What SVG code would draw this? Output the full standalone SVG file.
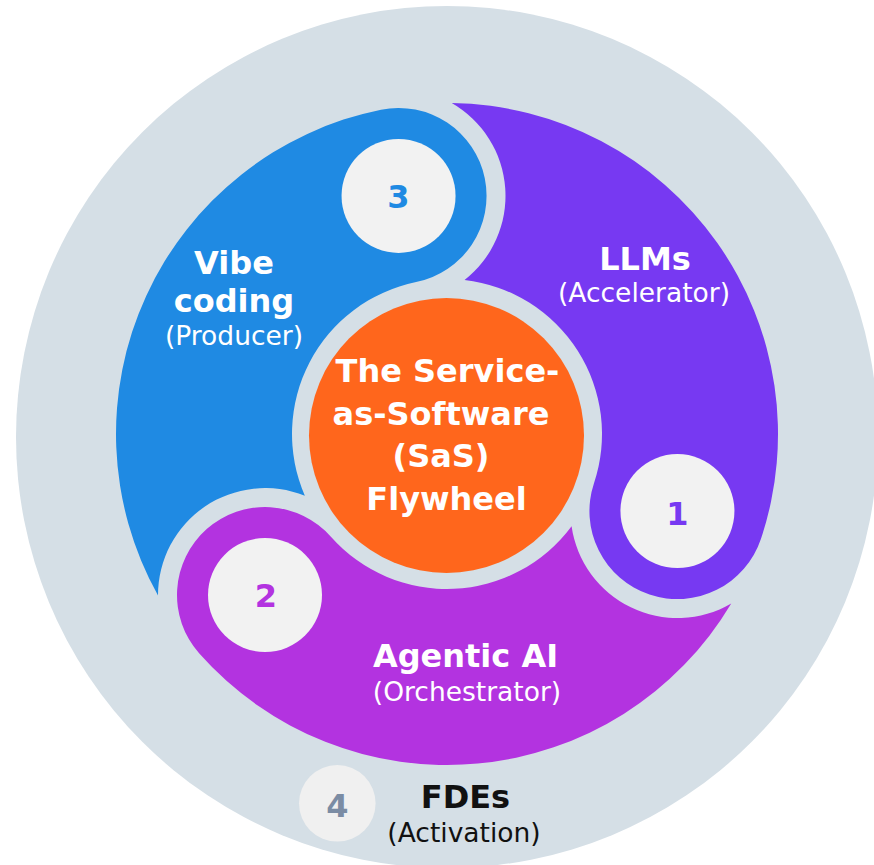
<svg xmlns="http://www.w3.org/2000/svg" width="874" height="865" viewBox="0 0 874 865">
  <style>
    text { font-family: "DejaVu Sans", Verdana, "Liberation Sans", sans-serif; text-anchor: middle; }
    .b { font-weight: bold; font-size: 32px; fill: #ffffff; }
    .r { font-weight: normal; font-size: 26.5px; fill: #ffffff; }
    .num { font-weight: bold; font-size: 32px; }
    .badge { fill: #f2f2f2; }
    .bg { fill: #d5dfe6; }
  </style>
  <rect width="874" height="865" fill="#ffffff"/>
  <g id="backdrop">
    <circle class="bg" cx="447" cy="437" r="431"/>
  </g>

  <g id="connectors"></g>

  <g id="node-llms">
    <path fill="#7739f2" d="M 451.74 103.03 A 331 331 0 0 1 760.90 539.03 A 88 88 0 0 1 649.52 594.56 A 88 88 0 0 1 593.99 483.18 A 155 155 0 0 0 464.57 280.00 A 107 107 0 0 0 451.74 103.03 Z"/>
    <circle class="badge" cx="677.44" cy="511.11" r="57"/>
    <text class="num" x="677.5" y="524.5" fill="#7739f2">1</text>
    <text class="b" x="645" y="270">LLMs</text>
    <text class="r" x="644" y="302">(Accelerator)</text>
  </g>

  <g id="node-agentic">
    <path fill="#b333e0" d="M 731.26 603.59 A 331 331 0 0 1 199.10 653.33 A 88 88 0 0 1 206.69 529.11 A 88 88 0 0 1 330.91 536.71 A 155 155 0 0 0 571.58 526.22 A 107 107 0 0 0 731.26 603.59 Z"/>
    <circle class="badge" cx="265.00" cy="595.02" r="57"/>
    <text class="num" x="266" y="607" fill="#b333e0">2</text>
    <text class="b" x="465.5" y="667">Agentic AI</text>
    <text class="r" x="467" y="701">(Orchestrator)</text>
  </g>

  <g id="node-vibe">
    <path fill="#1f8ae3" d="M 158.01 595.38 A 331 331 0 0 1 381.01 109.64 A 88 88 0 0 1 484.78 178.34 A 88 88 0 0 1 416.10 282.11 A 155 155 0 0 0 304.85 495.78 A 107 107 0 0 0 158.01 595.38 Z"/>
    <circle class="badge" cx="398.55" cy="195.88" r="57"/>
    <text class="num" x="398.5" y="208" fill="#1f8ae3">3</text>
    <text class="b" x="234" y="274">Vibe</text>
    <text class="b" x="234" y="312">coding</text>
    <text class="r" x="234" y="345">(Producer)</text>
  </g>

  <g id="node-hub">
    <circle cx="446.5" cy="435.5" r="137.5" fill="#ff661c"/>
    <text class="b" x="447.5" y="382">The Service-</text>
    <text class="b" x="441" y="424.5">as-Software</text>
    <text class="b" x="441" y="467">(SaS)</text>
    <text class="b" x="446.5" y="509.5">Flywheel</text>
  </g>

  <g id="node-fdes">
    <circle cx="337.3" cy="803.3" r="38.3" fill="#f0f0f0"/>
    <text class="num" x="337.5" y="816.5" fill="#7b8ca4">4</text>
    <text class="b" x="465.5" y="808" style="fill:#111111">FDEs</text>
    <text class="r" x="464" y="842" style="fill:#111111">(Activation)</text>
  </g>
</svg>
